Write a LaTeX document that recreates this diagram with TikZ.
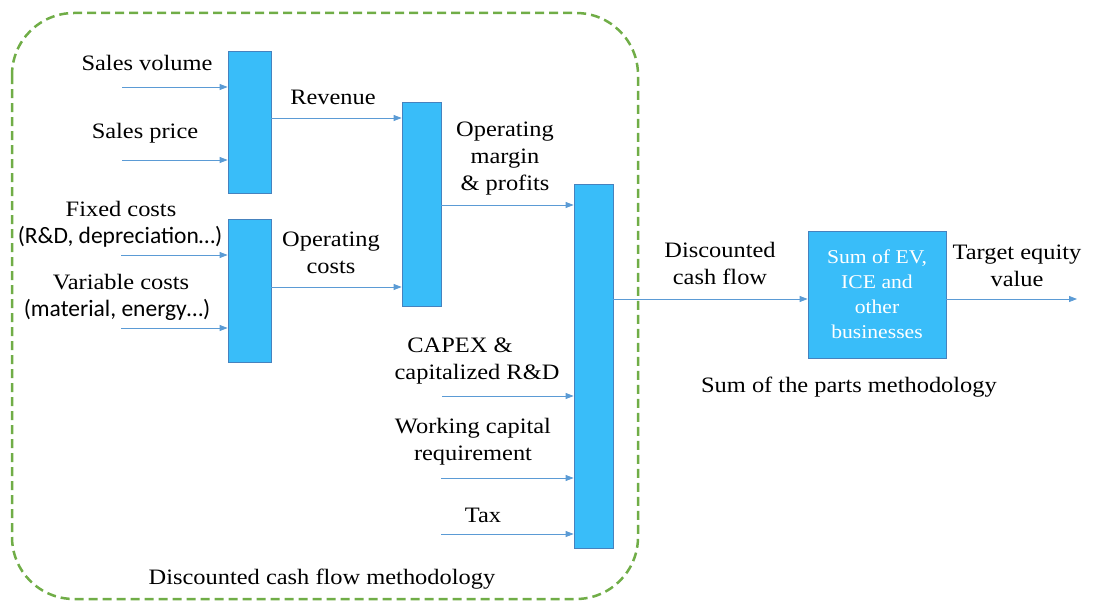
\documentclass[tikz,border=0pt]{standalone}
\usepackage{fontspec}
\setmainfont{Liberation Serif}[FakeStretch=1.11]
\newfontfamily\labelsans{Carlito}
\usetikzlibrary{arrows.meta}
\definecolor{barblue}{RGB}{57,189,249}
\definecolor{baredge}{RGB}{70,130,190}
\definecolor{arrowblue}{RGB}{91,155,213}
\definecolor{dashgreen}{RGB}{112,173,71}
\begin{document}
\begin{tikzpicture}[x=1pt, y=-1pt]
  \useasboundingbox (0,0) rectangle (1099,602);  % Rahmen wie Vorlage.
  \tikzstyle{bar}=[draw=baredge, fill=barblue, line width=0.8pt, inner sep=0pt]
  \tikzstyle{txt}=[align=center, inner sep=0pt, font=\fontsize{22}{27}\selectfont]
  \tikzstyle{sans}=[align=center, inner sep=0pt, font=\labelsans\fontsize{23.5}{27}\selectfont]
  \tikzstyle{arr}=[draw=arrowblue, line width=0.8pt, -{Triangle[length=8pt, width=6pt]}]

  \draw [dashgreen, line width=2.5pt, dash pattern=on 9pt off 5pt, rounded corners=62pt]
    (12,13) rectangle (638,599);

  \node[bar, minimum width=43pt, minimum height=142pt] (sales) at (249.5, 122) {};
  \node[bar, minimum width=43pt, minimum height=143pt] (costs) at (249.5, 290.5) {};
  \node[bar, minimum width=39pt, minimum height=204pt] (margin) at (421.5, 204) {};
  \node[bar, minimum width=39pt, minimum height=364pt] (cash) at (593.5, 366) {};
  \node[bar, minimum width=138pt, minimum height=127pt, text=white, align=center,
        font=\fontsize{19.5}{25}\selectfont] (sotp) at (877, 294.5)
        {Sum of EV,\\ICE and\\other\\businesses};

  \node[txt]  (volume)   at (147, 63)  {Sales volume};
  \node[txt]  (price)    at (145, 133) {Sales price};
  \node[txt]  (fixed)    at (121, 209) {Fixed costs};
  \node[sans] (fixedx)   at (120, 237) {(R\&D, depreciation…)};
  \node[txt]  (variable) at (121, 282) {Variable costs};
  \node[sans] (variablex) at (117, 310) {(material, energy…)};
  \node[txt]  (revenue)  at (333, 97)  {Revenue};
  \node[txt]  (opcosts)  at (331, 253) {Operating\\costs};
  \node[txt]  (opmargin) at (505, 159) {Operating\\margin\\\& profits};
  \node[txt]  (capex)    at (477, 361) {CAPEX \&\hspace*{34pt}\\capitalized R\&D};
  \node[txt]  (wcr)      at (473, 442) {Working capital\\requirement};
  \node[txt]  (tax)      at (483, 515) {Tax};
  \node[txt]  (dcf)      at (720, 263) {Discounted\\cash flow};
  \node[txt]  (target)   at (1017, 266) {Target equity\\value};
  \node[txt]  (sotplbl)  at (849, 387) {Sum of the parts methodology};
  \node[txt]  (dcflbl)   at (322, 579) {Discounted cash flow methodology};

  \coordinate (in1) at (122, 87);
  \coordinate (in2) at (122, 160);
  \coordinate (in3) at (121, 255);
  \coordinate (in4) at (121, 328);
  \coordinate (in5) at (442, 396);
  \coordinate (in6) at (441, 478);
  \coordinate (in7) at (441, 534);
  \coordinate (out) at (1077, 299);

  \path[arr] (in1) -- (in1 -| sales.west);
  \path[arr] (in2) -- (in2 -| sales.west);
  \path[arr] (in3) -- (in3 -| costs.west);
  \path[arr] (in4) -- (in4 -| costs.west);
  \path[arr] (sales.east |- 0,118) -- (margin.west |- 0,118);
  \path[arr] (costs.east |- 0,287) -- (margin.west |- 0,287);
  \path[arr] (margin.east |- 0,205) -- (cash.west |- 0,205);
  \path[arr] (in5) -- (in5 -| cash.west);
  \path[arr] (in6) -- (in6 -| cash.west);
  \path[arr] (in7) -- (in7 -| cash.west);
  \path[arr] (cash.east |- out) -- (sotp.west |- out);
  \path[arr] (sotp.east |- out) -- (out);
\end{tikzpicture}
\end{document}
